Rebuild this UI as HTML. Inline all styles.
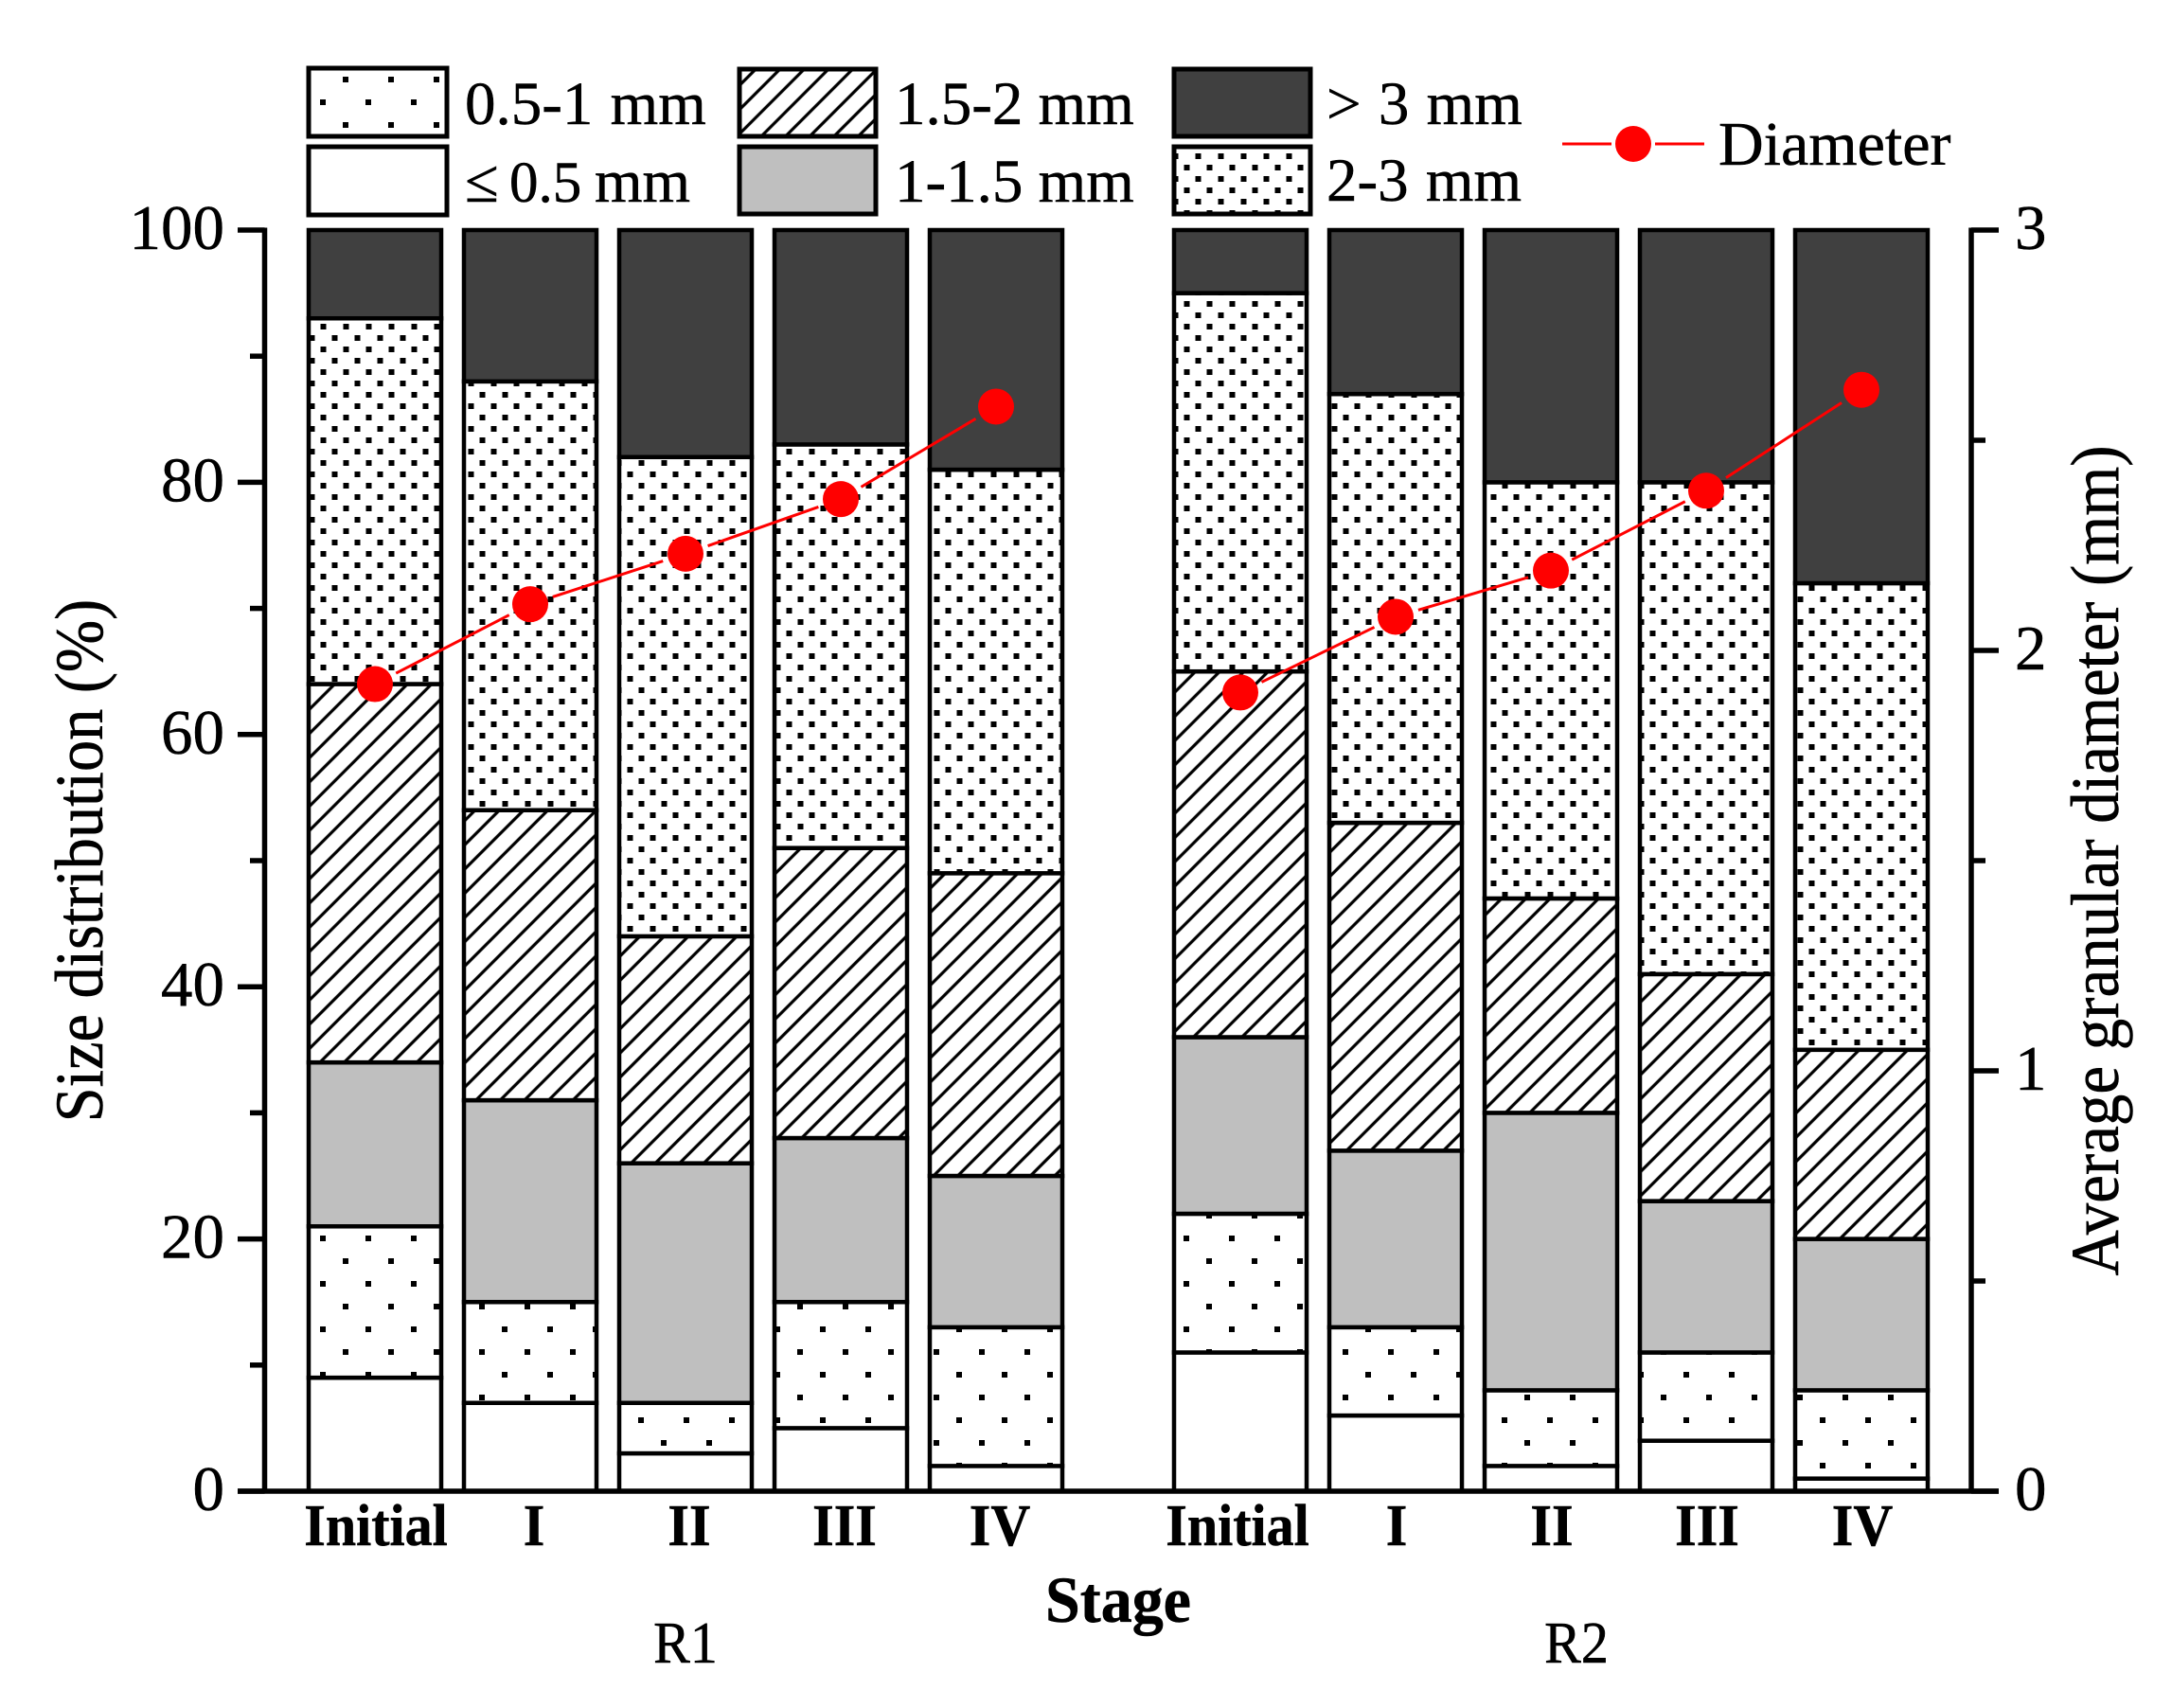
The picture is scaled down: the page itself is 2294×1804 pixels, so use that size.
<!DOCTYPE html>
<html lang="en">
<head>
<meta charset="utf-8">
<title>Size distribution and average granular diameter</title>
<style>
html,body{margin:0;padding:0;background:#fff;}
svg{display:block;}
text{font-family:"Liberation Serif","Times New Roman",serif;fill:#000;stroke:#000;stroke-width:0.5px;}
</style>
</head>
<body>
<svg id="chart" xmlns="http://www.w3.org/2000/svg" width="2294" height="1804" viewBox="0 0 2294 1804">
<defs>
<pattern id="p-sparse" patternUnits="userSpaceOnUse" width="48" height="48" patternTransform="translate(338 9)">
<rect width="48" height="48" fill="#fff"/>
<rect x="0" y="0" width="6" height="6" fill="#000"/>
<rect x="24" y="24" width="6" height="6" fill="#000"/>
</pattern>
<pattern id="p-dense" patternUnits="userSpaceOnUse" width="24" height="24" patternTransform="translate(338.5 6)">
<rect width="24" height="24" fill="#fff"/>
<rect x="0" y="0" width="6" height="6" fill="#000"/>
<rect x="12" y="12" width="6" height="6" fill="#000"/>
</pattern>
<pattern id="p-hatch" patternUnits="userSpaceOnUse" width="18.1" height="18.1" patternTransform="translate(328 748) rotate(45)">
<rect width="18.1" height="18.1" fill="#fff"/>
<rect x="0" y="0" width="1.6" height="18.1" fill="#000"/>
<rect x="16.5" y="0" width="1.6" height="18.1" fill="#000"/>
</pattern>
</defs>
<rect width="2294" height="1804" fill="#fff"/>
<g id="bars"></g>
<g id="axes"></g>
<g id="line"></g>

<g font-size="65" word-spacing="2">
<rect x="326" y="72" width="146" height="72" fill="url(#p-sparse)" stroke="#000" stroke-width="5"/>
<text x="491" y="131">0.5-1 mm</text>
<rect x="326" y="155" width="146" height="72" fill="#fff" stroke="#000" stroke-width="5"/>
<text y="213"><tspan x="491">≤</tspan> <tspan x="538" font-size="61">0.5</tspan> <tspan x="628">mm</tspan></text>
<rect x="781" y="73" width="144" height="71" fill="url(#p-hatch)" stroke="#000" stroke-width="5"/>
<text x="945" y="131" word-spacing="0">1.5-2 mm</text>
<rect x="781" y="155" width="144" height="71" fill="#bfbfbf" stroke="#000" stroke-width="5"/>
<text x="945" y="213" word-spacing="0">1-1.5 mm</text>
<rect x="1240" y="73" width="144" height="71" fill="#404040" stroke="#000" stroke-width="5"/>
<text x="1401" y="131">&gt; 3 mm</text>
<rect x="1240" y="155" width="144" height="71" fill="url(#p-dense)" stroke="#000" stroke-width="5"/>
<text x="1401" y="212">2-3 mm</text>
<line x1="1650" y1="152" x2="1702" y2="152" stroke="#f00" stroke-width="3"/>
<line x1="1748" y1="152" x2="1800" y2="152" stroke="#f00" stroke-width="3"/>
<circle cx="1725" cy="152" r="19" fill="#f00"/>
<text x="1815" y="174" font-size="66">Diameter</text>
</g>

<text x="0" y="0" font-size="66.3" text-anchor="middle" transform="translate(108 909) rotate(-90) scale(1 1.08)">Size distribution (%)</text>
<text x="0" y="0" font-size="66.9" text-anchor="middle" transform="translate(2237 909) rotate(-90) scale(1 1.08)">Average granular diameter (mm)</text>
<text x="0" y="0" font-size="66" font-weight="bold" text-anchor="middle" transform="translate(1181 1713) scale(1 1.05)">Stage</text>
<text x="0" y="0" font-size="58" text-anchor="middle" transform="translate(724 1756) scale(1 1.08)">R1</text>
<text x="0" y="0" font-size="58" text-anchor="middle" transform="translate(1665 1756) scale(1 1.08)">R2</text>
</svg>

<script>
// Chart data
const categories = ["Initial", "I", "II", "III", "IV"];
const groups = ["R1", "R2"];
const leq05 = [9, 7, 3, 5, 2, 11, 6, 2, 4, 1];
const from05to1 = [12, 8, 4, 10, 11, 11, 7, 6, 7, 7];
const from1to15 = [13, 16, 19, 13, 12, 14, 14, 22, 12, 12];
const from15to2 = [30, 23, 18, 23, 24, 29, 26, 17, 18, 15];
const from2to3 = [29, 34, 38, 32, 32, 30, 34, 33, 39, 37];
const over3 = [7, 12, 18, 17, 19, 5, 13, 20, 20, 28];
const diameter = [1.92, 2.11, 2.23, 2.36, 2.58, 1.90, 2.08, 2.19, 2.38, 2.62];
const leftTicks = [0, 20, 40, 60, 80, 100];
const leftMinorTicks = [10, 30, 50, 70, 90];
const rightTicks = [0, 1, 2, 3];
const rightMinorTicks = [0.5, 1.5, 2.5];

const NS = "http://www.w3.org/2000/svg";
const series = [
  { name: "under-0.5-mm", values: leq05, fill: "#fff" },
  { name: "0.5-1-mm", values: from05to1, fill: "url(#p-sparse)" },
  { name: "1-1.5-mm", values: from1to15, fill: "#bfbfbf" },
  { name: "1.5-2-mm", values: from15to2, fill: "url(#p-hatch)" },
  { name: "2-3-mm", values: from2to3, fill: "url(#p-dense)" },
  { name: "over-3-mm", values: over3, fill: "#404040" }
];

// Axis functions
const plotTop = 243, plotBottom = 1575, axisLeft = 279.5, axisRight = 2082;
const yLeft = v => plotBottom - (v / 100) * (plotBottom - plotTop);
const yRight = v => plotBottom - (v / 3) * (plotBottom - plotTop);
const groupStart = [396, 1310], pitch = 164, barWidth = 140;
const xCenter = i => {
  const g = Math.floor(i / categories.length);
  return groupStart[g] + (i % categories.length) * pitch;
};

function make(tag, attrs, parent) {
  const el = document.createElementNS(NS, tag);
  for (const k in attrs) el.setAttribute(k, attrs[k]);
  parent.appendChild(el);
  return el;
}

const barsG = document.getElementById("bars");
const axesG = document.getElementById("axes");
const lineG = document.getElementById("line");

// Stacked bars
leq05.forEach((_, i) => {
  let cum = 0;
  series.forEach(s => {
    const top = cum + s.values[i];
    const r = make("rect", {
      x: xCenter(i) - barWidth / 2,
      y: yLeft(top),
      width: barWidth,
      height: yLeft(cum) - yLeft(top),
      fill: s.fill,
      stroke: "#000",
      "stroke-width": 4.5
    }, barsG);
    
    
    cum = top;
  });
});

// Axis lines
const axisLines = [
  [axisLeft, plotTop - 2.5, axisLeft, plotBottom, "left-axis-line"],
  [axisRight, plotTop - 2.5, axisRight, plotBottom, "right-axis-line"],
  [251, plotBottom, 2111, plotBottom, "bottom-axis-line"]
];
axisLines.forEach(a => {
  const l = make("line", { x1: a[0], y1: a[1], x2: a[2], y2: a[3], stroke: "#000", "stroke-width": 5.5 }, axesG);
  
  
});

// Left ticks
leftTicks.forEach(v => {
  const t = make("line", { x1: 251, y1: yLeft(v), x2: axisLeft, y2: yLeft(v), stroke: "#000", "stroke-width": 5.5 }, axesG);
  
  
  const lab = make("text", { x: 237, y: yLeft(v) + 20, "font-size": 67, "text-anchor": "end" }, axesG);
  
  
  lab.textContent = String(v);
});
leftMinorTicks.forEach(v => {
  const t = make("line", { x1: 264, y1: yLeft(v), x2: axisLeft, y2: yLeft(v), stroke: "#000", "stroke-width": 5.5 }, axesG);
  
  
});

// Right ticks
rightTicks.forEach(v => {
  const t = make("line", { x1: axisRight, y1: yRight(v), x2: 2111, y2: yRight(v), stroke: "#000", "stroke-width": 5.5 }, axesG);
  
  
  const lab = make("text", { x: 2128, y: yRight(v) + 20, "font-size": 67 }, axesG);
  
  
  lab.textContent = String(v);
});
rightMinorTicks.forEach(v => {
  const t = make("line", { x1: axisRight, y1: yRight(v), x2: 2097, y2: yRight(v), stroke: "#000", "stroke-width": 5.5 }, axesG);
  
  
});

// Category labels
leq05.forEach((_, i) => {
  const g = Math.floor(i / categories.length);
  const first = i % categories.length === 0;
  const dx = first ? (g === 0 ? 1 : -3) : (g === 0 ? 4 : 1);
  const lab = make("text", {
    x: 0,
    y: 0,
    transform: "translate(" + (xCenter(i) + dx) + " 1632) scale(1 1.08)",
    "font-size": 58,
    "font-weight": "bold",
    "text-anchor": "middle"
  }, axesG);
  
  
  lab.textContent = categories[i % categories.length];
});

// Diameter line (segments stop short of the markers)
const markerGap = 25;
diameter.forEach((d, i) => {
  if (i + 1 < diameter.length && Math.floor(i / categories.length) === Math.floor((i + 1) / categories.length)) {
    const x0 = xCenter(i), y0 = yRight(d), x1 = xCenter(i + 1), y1 = yRight(diameter[i + 1]);
    const len = Math.hypot(x1 - x0, y1 - y0);
    const ux = (x1 - x0) / len, uy = (y1 - y0) / len;
    const seg = make("line", {
      x1: x0 + ux * markerGap, y1: y0 + uy * markerGap,
      x2: x1 - ux * markerGap, y2: y1 - uy * markerGap,
      stroke: "#f00", "stroke-width": 3
    }, lineG);
    
    
  }
});
diameter.forEach((d, i) => {
  const c = make("circle", { cx: xCenter(i), cy: yRight(d), r: 19, fill: "#f00" }, lineG);
  
  
});
</script>
</body>
</html>
